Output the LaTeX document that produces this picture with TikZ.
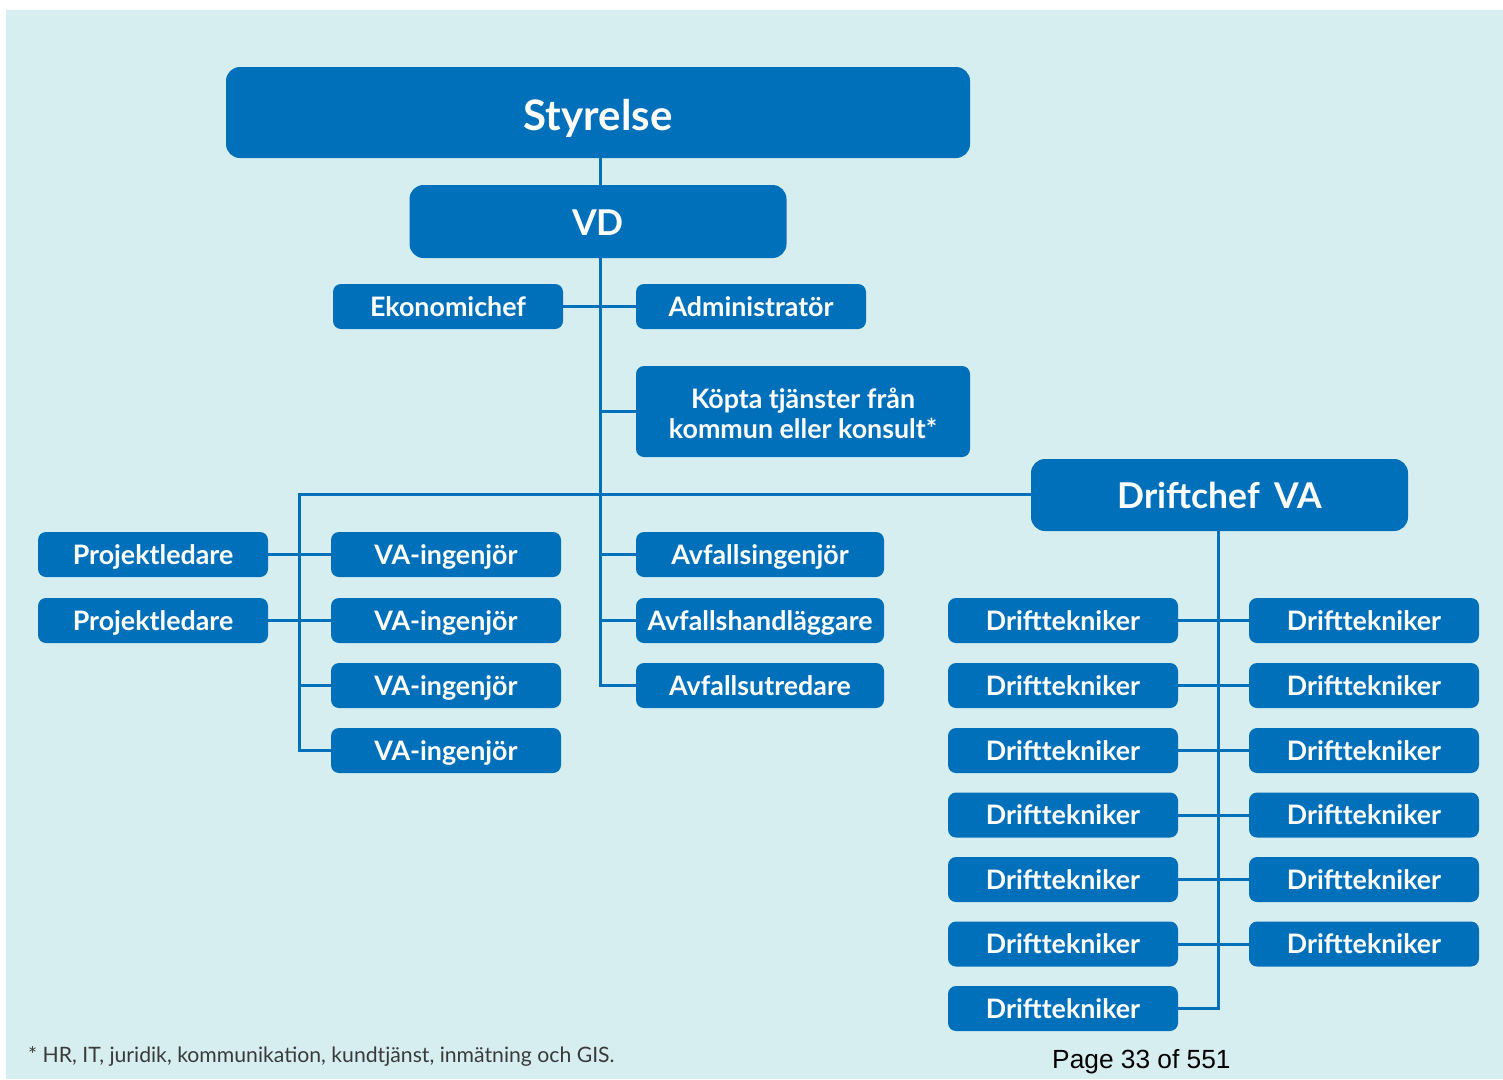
\documentclass[tikz,border=0pt]{standalone}
\usepackage{fontspec}
\setmainfont{Lato}
\newfontfamily\pagefont{Liberation Sans}
\definecolor{orgblue}{HTML}{0070BA}
\definecolor{bgcol}{HTML}{D7EEF0}
\definecolor{notecol}{HTML}{3A3A3A}
\begin{document}
\begin{tikzpicture}[x=1pt,y=-1pt,
  box/.style={fill=orgblue, text=white, rounded corners=8pt, inner sep=0pt,
    minimum width=230pt, minimum height=45pt, text height=24pt, text depth=4.4pt,
    font=\fontsize{26.8}{30}\selectfont\bfseries},
  bigbox/.style={box, rounded corners=14pt},
  conn/.style={draw=orgblue, line width=3pt}]
\useasboundingbox (0,0) rectangle (1503,1079);
\fill[white] (0,0) rectangle (1503,1079);
\fill[bgcol] (6,10) rectangle (1503,1079);

% top
\node[bigbox, minimum width=744pt, minimum height=91pt, text height=40pt, text depth=5pt,
  font=\fontsize{42}{48}\selectfont\bfseries] (sty) at (598,112.5) {Styrelse};
\node[bigbox, minimum width=377pt, minimum height=73pt, text height=31pt, text depth=4pt,
  font=\fontsize{35.5}{40}\selectfont\bfseries] (vd) at (598,221.5) {VD};
\node[box] (eko) at (448,306.5) {Ekonomichef};
\node[box] (adm) at (751,306.5) {Administratör};
\node[fill=orgblue, text=white, rounded corners=8pt, inner sep=0pt, align=center,
  font=\fontsize{26.8}{30}\selectfont\bfseries,
  minimum width=334pt, minimum height=91pt] (kop) at (803,411.5)
  {\rule{0pt}{25pt}Köpta tjänster från\\kommun eller konsult*};
\node[bigbox, minimum width=377pt, minimum height=72pt, text height=31pt, text depth=4pt,
  font=\fontsize{35.5}{40}\selectfont\bfseries] (dc) at (1219.5,495) {Driftchef\, VA};

% left branch
\node[box] (pl1) at (153,554.5) {Projektledare};
\node[box] (pl2) at (153,620.5) {Projektledare};
\node[box] (va1) at (446,554.5) {VA-ingenjör};
\node[box] (va2) at (446,620.5) {VA-ingenjör};
\node[box] (va3) at (446,685.5) {VA-ingenjör};
\node[box] (va4) at (446,750.5) {VA-ingenjör};

% avfall
\node[box, minimum width=248pt] (avi) at (760,554.5) {Avfallsingenjör};
\node[box, minimum width=248pt] (avh) at (760,620.5) {Avfallshandläggare};
\node[box, minimum width=248pt] (avu) at (760,685.5) {Avfallsutredare};

% drift
\foreach \i/\y in {1/620.5,2/685.5,3/750.5,4/815,5/879.5,6/944,7/1008.5}{
  \node[box] (dl\i) at (1063,\y) {Drifttekniker};
}
\foreach \i/\y in {1/620.5,2/685.5,3/750.5,4/815,5/879.5,6/944}{
  \node[box] (dr\i) at (1364,\y) {Drifttekniker};
}

% connectors
\coordinate (trunk) at (600,0);
\coordinate (lb) at (299,494);
\coordinate (dtr) at (1218,0);
\draw[conn] (sty.south -| trunk) -- (vd.north -| trunk);
\draw[conn] (vd.south -| trunk) |- (avu.west);
\draw[conn] (eko.east) -- (adm.west);
\draw[conn] (kop.west) -- (kop.west -| trunk);
\draw[conn] (avi.west) -- (avi.west -| trunk);
\draw[conn] (avh.west) -- (avh.west -| trunk);
\draw[conn] (dc.west |- lb) -- (lb) |- (va4.west);
\draw[conn] (pl1.east) -- (va1.west);
\draw[conn] (pl2.east) -- (va2.west);
\draw[conn] (va3.west) -- (va3.west -| lb);
\draw[conn] (dc.south -| dtr) |- (dl7.east);
\foreach \i in {1,...,6}{
  \draw[conn] (dl\i.east) -- (dr\i.west);
}

% footnotes
\node[anchor=base west, inner sep=0pt, text=notecol, font=\fontsize{21.2}{24}\selectfont] (note) at (28,1062) {* HR, IT, juridik, kommunikation, kundtjänst, inmätning och GIS.};
\node[anchor=base west, inner sep=0pt, text=black, font=\pagefont\fontsize{26.3}{30}\selectfont] (page) at (1052,1068) {Page 33 of 551};
\end{tikzpicture}
\end{document}
